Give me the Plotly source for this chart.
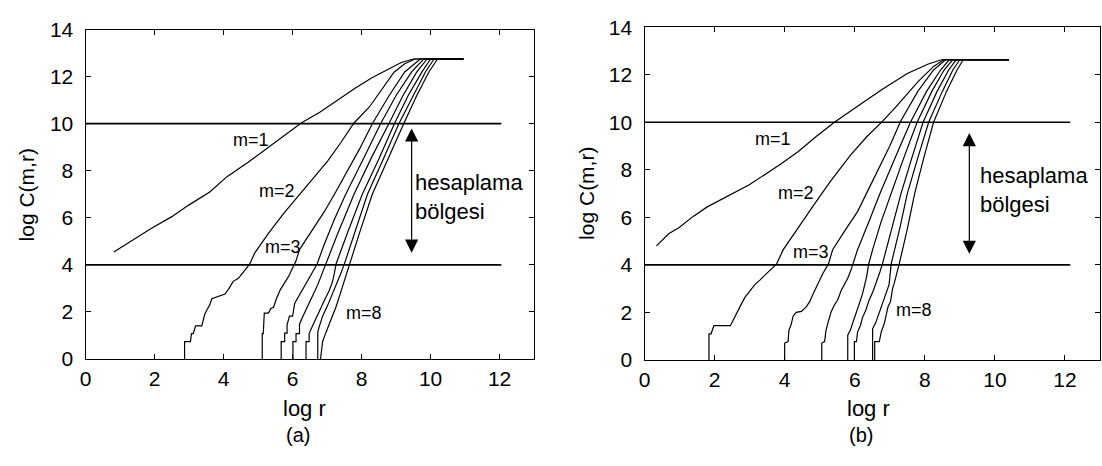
import plotly.graph_objects as go

# ---- panel (a): correlation sums log C(m,r) versus log r, embedding dimensions m = 1..8
A_M1_LOGR = [0.82, 1.3, 1.9, 2.5, 3.0, 3.6, 4.1, 4.7, 5.2, 5.7, 6.25, 6.8, 7.3, 7.8, 8.3, 8.8, 9.15, 9.5, 10.95]
A_M1_LOGC = [4.55, 5.0, 5.55, 6.05, 6.55, 7.1, 7.75, 8.35, 8.9, 9.45, 10.03, 10.5, 11.0, 11.5, 11.95, 12.35, 12.6, 12.75, 12.75]

A_M2_LOGR = [2.87, 2.87, 3.04, 3.07, 3.12, 3.19, 3.37, 3.45, 3.52, 3.6, 3.66, 4.04, 4.14, 4.28, 4.43, 4.57, 4.76,
             4.9, 5.29, 5.75, 6.25, 6.65, 7.02, 7.4, 7.78, 8.22, 8.6, 8.94, 9.25, 9.55, 10.95]
A_M2_LOGC = [0.0, 0.74, 0.74, 1.08, 1.08, 1.41, 1.41, 1.89, 2.09, 2.3, 2.56, 2.76, 2.96, 3.3, 3.43, 3.7, 4.04,
             4.5, 5.32, 6.2, 7.07, 7.75, 8.42, 9.2, 10.03, 10.7, 11.5, 12.19, 12.55, 12.75, 12.75]

A_M3_LOGR = [5.12, 5.12, 5.15, 5.18, 5.3, 5.37, 5.45, 5.53, 5.65, 5.77, 5.88, 6.01, 6.1, 6.2,
             6.5, 6.92, 7.25, 7.59, 7.95, 8.31, 8.8, 9.25, 9.7, 10.95]
A_M3_LOGC = [0.0, 1.08, 1.08, 1.95, 1.95, 2.15, 2.2, 2.56, 2.96, 3.23, 3.5, 3.9, 4.17, 4.65,
             5.3, 6.26, 7.1, 8.01, 8.95, 10.0, 11.2, 12.2, 12.75, 12.75]

A_M4_LOGR = [5.67, 5.67, 5.77, 5.77, 5.84, 5.84, 5.91, 6.0, 6.06, 6.16, 6.3, 6.44, 6.58, 6.71,
             6.9, 7.2, 7.54, 8.05, 8.55, 9.0, 9.45, 9.8, 10.95]
A_M4_LOGC = [0.0, 0.74, 0.74, 1.1, 1.1, 1.45, 1.82, 1.82, 2.36, 2.63, 2.96, 3.37, 3.7, 4.04,
             4.8, 5.9, 7.0, 8.5, 10.0, 11.2, 12.2, 12.75, 12.75]

A_M5_LOGR = [6.01, 6.01, 6.1, 6.1, 6.2, 6.2, 6.3, 6.44, 6.58, 6.73, 6.84, 6.97,
             7.3, 7.78, 8.3, 8.79, 9.2, 9.6, 9.9, 10.95]
A_M5_LOGC = [0.0, 0.74, 0.74, 1.08, 1.08, 1.48, 1.82, 2.22, 2.69, 3.16, 3.57, 4.04,
             5.3, 7.0, 8.6, 10.0, 11.2, 12.2, 12.75, 12.75]

A_M6_LOGR = [6.39, 6.39, 6.48, 6.48, 6.58, 6.68, 6.78, 6.92, 7.06, 7.16, 7.21, 7.26,
             7.6, 8.02, 8.5, 8.95, 9.35, 9.75, 10.0, 10.95]
A_M6_LOGC = [0.0, 0.74, 0.74, 1.08, 1.41, 1.75, 2.02, 2.49, 2.9, 3.3, 3.64, 4.04,
             5.4, 7.0, 8.5, 10.0, 11.2, 12.2, 12.75, 12.75]

A_M7_LOGR = [6.73, 6.73, 6.78, 6.87, 7.02, 7.16, 7.3, 7.4, 7.5,
             7.8, 8.17, 8.63, 9.08, 9.5, 9.85, 10.1, 10.95]
A_M7_LOGC = [0.0, 1.14, 1.41, 1.82, 2.29, 2.76, 3.3, 3.64, 4.04,
             5.4, 7.0, 8.5, 10.0, 11.2, 12.2, 12.75, 12.75]

A_M8_LOGR = [6.81, 6.87, 6.97, 7.06, 7.16, 7.26, 7.35, 7.45, 7.55, 7.67,
             7.95, 8.31, 8.76, 9.22, 9.6, 9.95, 10.2, 10.95]
A_M8_LOGC = [0.0, 0.74, 1.14, 1.48, 1.82, 2.22, 2.63, 3.1, 3.57, 4.04,
             5.4, 7.0, 8.5, 10.0, 11.2, 12.2, 12.75, 12.75]

# ---- panel (b)
B_M1_LOGR = [0.34, 0.69, 0.99, 1.39, 1.79, 2.39, 2.99, 3.89, 4.39, 4.9, 5.42, 6.1, 6.8, 7.5, 8.1, 8.5, 10.4]
B_M1_LOGC = [4.8, 5.31, 5.57, 6.04, 6.44, 6.91, 7.37, 8.24, 8.77, 9.4, 10.0, 10.7, 11.4, 12.05, 12.45, 12.64, 12.64]

B_M2_LOGR = [1.84, 1.84, 1.9, 1.95, 1.98, 2.45, 2.52, 2.59, 2.68, 2.77, 2.87, 3.01, 3.15, 3.3, 3.44, 3.63, 3.77,
             3.96, 4.35, 4.76, 5.3, 5.89, 6.35, 6.79, 7.17, 7.8, 8.25, 8.55, 10.4]
B_M2_LOGC = [0.0, 1.1, 1.1, 1.3, 1.44, 1.44, 1.65, 1.84, 2.17, 2.37, 2.64, 2.91, 3.17, 3.37, 3.57, 3.84, 4.04,
             4.64, 5.5, 6.37, 7.5, 8.64, 9.4, 10.04, 10.64, 11.7, 12.35, 12.64, 12.64]

B_M3_LOGR = [4.0, 4.0, 4.1, 4.12, 4.19, 4.24, 4.33, 4.48, 4.62, 4.71, 4.81, 4.9, 4.99, 5.09, 5.25,
             5.37, 5.7, 6.08, 6.35, 6.65, 7.0, 7.31, 7.8, 8.25, 8.6, 10.4]
B_M3_LOGC = [0.0, 0.71, 0.77, 1.24, 1.51, 1.84, 2.0, 2.04, 2.24, 2.44, 2.77, 3.04, 3.31, 3.64, 4.04,
             4.64, 5.4, 6.24, 7.05, 7.97, 9.0, 10.04, 11.3, 12.2, 12.64, 12.64]

B_M4_LOGR = [5.06, 5.06, 5.14, 5.18, 5.25, 5.33, 5.42, 5.51, 5.61, 5.7, 5.8, 5.89, 5.95,
             6.08, 6.4, 6.72, 7.15, 7.59, 8.05, 8.45, 8.7, 10.4]
B_M4_LOGC = [0.0, 0.71, 0.77, 1.24, 1.64, 2.04, 2.31, 2.51, 2.91, 3.17, 3.44, 3.77, 4.04,
             4.64, 5.8, 7.0, 8.5, 10.0, 11.3, 12.2, 12.64, 12.64]

B_M5_LOGR = [5.8, 5.8, 5.87, 5.94, 6.03, 6.13, 6.22, 6.29, 6.34, 6.4,
             6.51, 6.75, 7.03, 7.4, 7.78, 8.2, 8.55, 8.8, 10.4]
B_M5_LOGC = [0.0, 1.04, 1.24, 1.57, 1.97, 2.37, 2.77, 3.17, 3.51, 4.04,
             4.64, 5.8, 7.0, 8.5, 10.0, 11.3, 12.2, 12.64, 12.64]

B_M6_LOGR = [5.99, 5.99, 6.05, 6.08, 6.16, 6.22, 6.32, 6.41, 6.53, 6.63, 6.72, 6.79,
             7.05, 7.32, 7.63, 7.95, 8.35, 8.68, 8.9, 10.4]
B_M6_LOGC = [0.0, 0.77, 0.77, 1.17, 1.44, 1.77, 2.11, 2.51, 2.91, 3.31, 3.71, 4.04,
             5.5, 7.0, 8.5, 10.0, 11.3, 12.2, 12.64, 12.64]

B_M7_LOGR = [6.51, 6.51, 6.6, 6.69, 6.79, 6.88, 6.98, 7.01, 7.04,
             7.28, 7.5, 7.8, 8.11, 8.5, 8.8, 9.0, 10.4]
B_M7_LOGC = [0.0, 1.31, 1.57, 1.97, 2.37, 2.77, 3.17, 3.6, 4.04,
             5.5, 7.0, 8.5, 10.0, 11.3, 12.2, 12.64, 12.64]

B_M8_LOGR = [6.57, 6.57, 6.7, 6.76, 6.84, 6.95, 7.02, 7.08, 7.13, 7.2, 7.27,
             7.5, 7.71, 7.97, 8.25, 8.62, 8.92, 9.1, 10.4]
B_M8_LOGC = [0.0, 0.77, 0.77, 1.2, 1.51, 2.24, 2.45, 3.0, 3.24, 3.6, 4.04,
             5.5, 7.0, 8.5, 10.0, 11.3, 12.2, 12.64, 12.64]

# scaling-region bounds (horizontal guide lines)
REGION_LOGC = [4, 10]
A_GUIDE_END = 12.05
B_GUIDE_END = 12.15

X_TICKS = [0, 2, 4, 6, 8, 10, 12]
Y_TICKS = [0, 2, 4, 6, 8, 10, 12, 14]

FONT = "Liberation Sans, Arial, sans-serif"

fig = go.Figure()

panel_a = [(A_M1_LOGR, A_M1_LOGC), (A_M2_LOGR, A_M2_LOGC), (A_M3_LOGR, A_M3_LOGC), (A_M4_LOGR, A_M4_LOGC),
           (A_M5_LOGR, A_M5_LOGC), (A_M6_LOGR, A_M6_LOGC), (A_M7_LOGR, A_M7_LOGC), (A_M8_LOGR, A_M8_LOGC)]
panel_b = [(B_M1_LOGR, B_M1_LOGC), (B_M2_LOGR, B_M2_LOGC), (B_M3_LOGR, B_M3_LOGC), (B_M4_LOGR, B_M4_LOGC),
           (B_M5_LOGR, B_M5_LOGC), (B_M6_LOGR, B_M6_LOGC), (B_M7_LOGR, B_M7_LOGC), (B_M8_LOGR, B_M8_LOGC)]

for curves, xa, ya in [(panel_a, "x", "y"), (panel_b, "x2", "y2")]:
    for lr, lc in curves:
        fig.add_trace(go.Scatter(x=lr, y=lc, mode="lines", xaxis=xa, yaxis=ya,
                                 line=dict(color="black", width=1.2), showlegend=False,
                                 hoverinfo="skip"))

for end, xa, ya in [(A_GUIDE_END, "x", "y"), (B_GUIDE_END, "x2", "y2")]:
    for level in REGION_LOGC:
        fig.add_trace(go.Scatter(x=[0, end], y=[level, level], mode="lines", xaxis=xa, yaxis=ya,
                                 line=dict(color="black", width=1.7), showlegend=False,
                                 hoverinfo="skip"))

axis_common = dict(range=[0, 13], tickvals=X_TICKS, ticks="inside", ticklen=5, tickcolor="black",
                   showline=True, linecolor="black", linewidth=1.2, mirror="ticks",
                   showgrid=False, zeroline=False, tickfont=dict(family=FONT, size=21, color="black"))
yaxis_common = dict(axis_common, range=[0, 14], tickvals=Y_TICKS, ticklabelstandoff=7)

fig.update_layout(
    width=1102, height=466,
    margin=dict(l=0, r=0, t=0, b=0),
    paper_bgcolor="white", plot_bgcolor="white",
    font=dict(family=FONT, color="black"),
    xaxis=dict(axis_common, domain=[80 / 1102, 531 / 1102], anchor="y", ticklabelstandoff=1),
    yaxis=dict(yaxis_common, domain=[1 - 365 / 466, 1 - 18.5 / 466], anchor="x"),
    xaxis2=dict(axis_common, domain=[642 / 1102, 1100 / 1102], anchor="y2", ticklabelstandoff=1),
    yaxis2=dict(yaxis_common, domain=[1 - 366 / 466, 1 - 16 / 466], anchor="x2"),
)

ann = []
# curve labels
for xr, yr, pos in [("x", "y", [("m=1", 4.8, 9.29), ("m=2", 5.54, 7.15), ("m=3", 5.71, 4.78), ("m=8", 8.06, 1.95)]),
                    ("x2", "y2", [("m=1", 3.68, 9.31), ("m=2", 4.31, 7.04), ("m=3", 4.76, 4.54), ("m=8", 7.68, 2.11)])]:
    for txt, lx, ly in pos:
        ann.append(dict(text=txt, x=lx, y=ly, xref=xr, yref=yr, showarrow=False,
                        font=dict(family=FONT, size=18, color="black"),
                        xanchor="center", yanchor="middle"))

# scaling region arrows and captions
for xr, yr, ax_x, top, bot, tx, ty in [("x", "y", 9.45, 9.8, 4.45, 9.5, 6.9),
                                       ("x2", "y2", 9.27, 9.55, 4.4, 9.52, 7.14)]:
    ann.append(dict(x=ax_x, y=top, ax=ax_x, ay=bot, xref=xr, yref=yr, axref=xr, ayref=yr,
                    text="", showarrow=True, arrowhead=2, arrowside="end+start",
                    arrowsize=2.2, arrowwidth=1.2, arrowcolor="black"))
    ann.append(dict(text="hesaplama<br>bölgesi", x=tx, y=ty, xref=xr, yref=yr, showarrow=False,
                    align="left", xanchor="left", yanchor="middle",
                    font=dict(family=FONT, size=22, color="black")))

# axis titles and panel captions
ann.append(dict(text="log C(m,r)", x=21 / 1102, y=1 - 192 / 466, xref="paper", yref="paper",
                textangle=-90, showarrow=False, xanchor="center", yanchor="middle",
                font=dict(family=FONT, size=21, color="black")))
ann.append(dict(text="log C(m,r)", x=583.5 / 1102, y=1 - 191 / 466, xref="paper", yref="paper",
                textangle=-90, showarrow=False, xanchor="center", yanchor="middle",
                font=dict(family=FONT, size=21, color="black")))
for xr, lx, cx, cap in [("x", 6.35, 6.15, "(a)"), ("x2", 6.39, 6.17, "(b)")]:
    ann.append(dict(text="log r", x=lx, y=1 - 417 / 466, xref=xr, yref="paper", showarrow=False,
                    xanchor="center", yanchor="middle", font=dict(family=FONT, size=22, color="black")))
    ann.append(dict(text=cap, x=cx, y=1 - 445 / 466, xref=xr, yref="paper", showarrow=False,
                    xanchor="center", yanchor="middle", font=dict(family=FONT, size=20, color="black")))

fig.update_layout(annotations=ann)
fig.write_html("out.html")
